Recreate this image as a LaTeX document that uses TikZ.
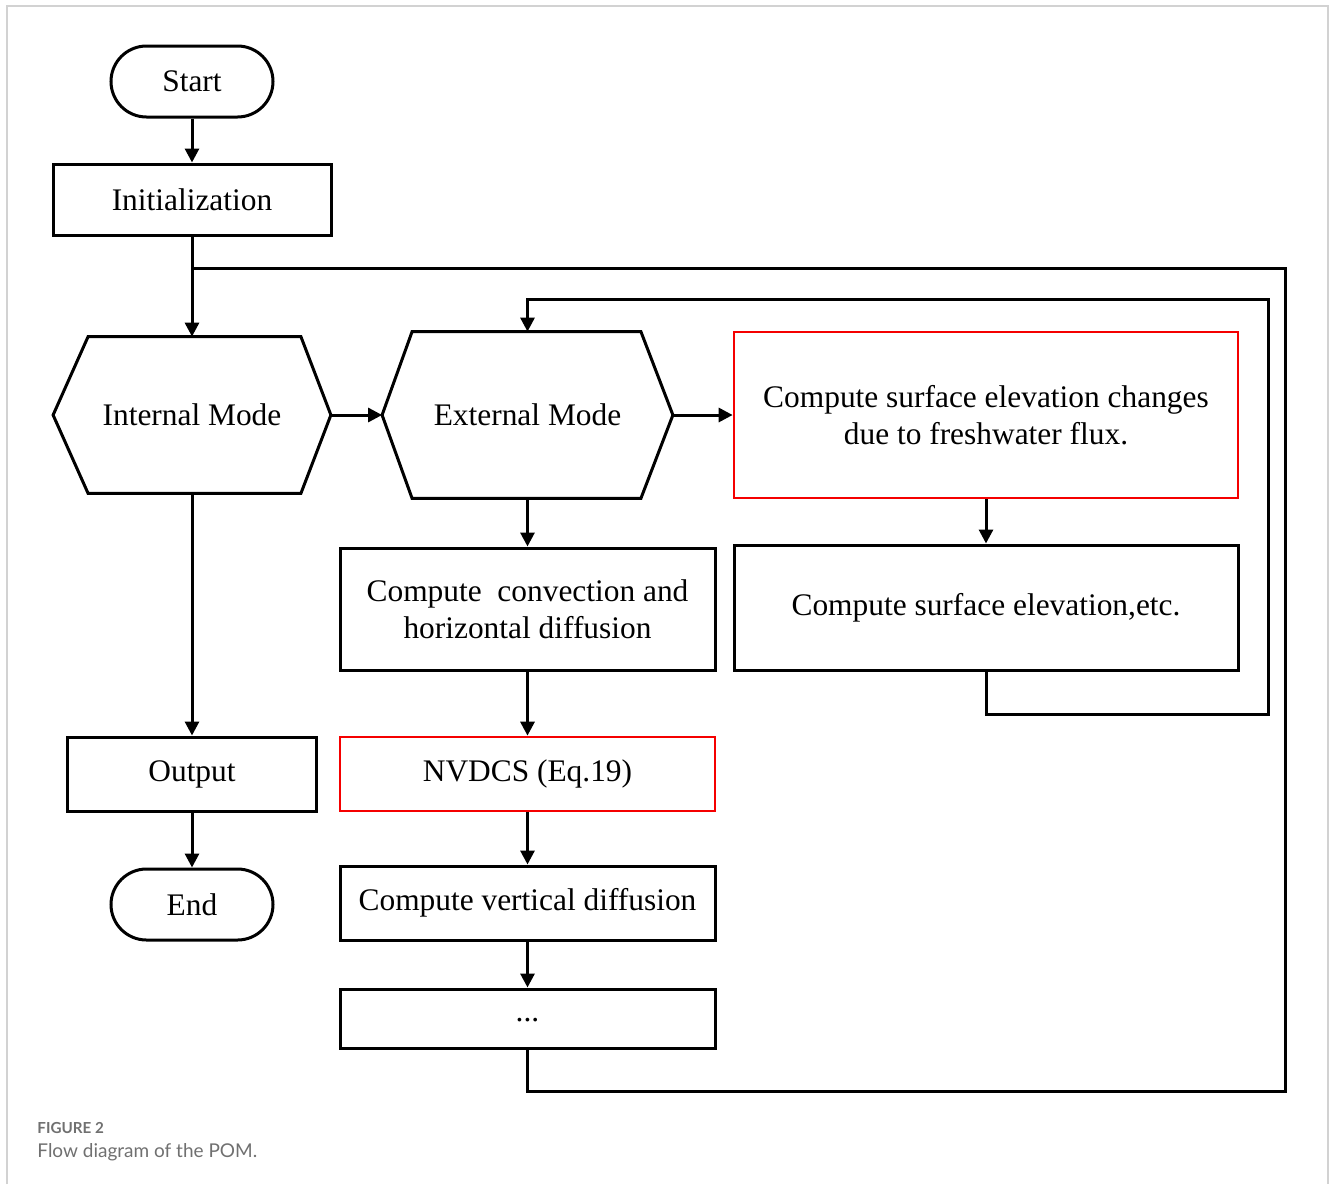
\documentclass[tikz,border=0pt]{standalone}
\usepackage{fontspec}
\setmainfont{Liberation Serif}
\newfontfamily\capfont{Lato}
\usetikzlibrary{arrows.meta,calc}
\definecolor{framegray}{RGB}{210,210,210}
\definecolor{capgray}{RGB}{112,112,112}
\definecolor{boxred}{RGB}{245,0,0}
\begin{document}
\begin{tikzpicture}[x=0.5pt,y=-0.5pt,
  base/.style={draw=black,line width=1.5pt,align=center,inner sep=2pt,
     font=\fontsize{15.7}{18.5}\selectfont},
  term/.style={base,rounded corners=17.75pt,minimum width=81pt,minimum height=35.5pt},
  proc/.style={base},
  redproc/.style={base,draw=boxred,line width=1.35pt},
  hexn/.style={align=center,inner sep=0pt,font=\fontsize{15.7}{18.5}\selectfont},
  hexline/.style={draw=black,line width=1.5pt,line join=miter},
  conn/.style={draw=black,line width=1.5pt},
  arr/.style={conn,-{Triangle[length=7pt,width=7pt]}},
  captext/.style={anchor=west,inner sep=0pt,text=capgray}]
\useasboundingbox (0,0) rectangle (1333,1184);
% outer frame
\draw[framegray,line width=0.8pt] (7,1184) -- (7,6) -- (1328,6) -- (1328,1184);

% nodes
\node[term] (start) at (192,81.5) {Start};
\node[proc,minimum width=139pt,minimum height=35.5pt] (init) at (192,199.5) {Initialization};
\node[hexn,minimum width=138.5pt,minimum height=78pt] (intm) at (192,415) {Internal Mode};
\node[hexn,minimum width=145pt,minimum height=83pt] (extm) at (527.5,415) {External Mode};
\node[redproc,minimum width=252pt,minimum height=83pt] (red1) at (986,415)
   {Compute surface elevation changes\\due to freshwater flux.};
\node[proc,minimum width=252pt,minimum height=62.5pt] (elev) at (986,607.5)
   {Compute surface elevation,etc.};
\node[proc,minimum width=187.5pt,minimum height=61pt] (conv) at (527.5,609)
   {Compute\ \ convection and\\horizontal diffusion};
\node[redproc,minimum width=187.5pt,minimum height=37pt] (nvdcs) at (527.5,774)
   {NVDCS (Eq.19)};
\node[proc,minimum width=187.5pt,minimum height=37pt] (vert) at (527.5,903)
   {Compute vertical diffusion};
\node[proc,minimum width=187.5pt,minimum height=29.5pt] (dots) at (527.5,1018.5)
   {\raisebox{-1.5pt}[0pt][0pt]{...}};
\node[proc,minimum width=124.5pt,minimum height=37pt] (out) at (192,774) {Output};
\node[term] (end) at (192,904.5) {End};

% hexagon outlines
\draw[hexline] (intm.west) -- ($(intm.north west)+(35,0)$) -- ($(intm.north east)+(-30,0)$)
   -- (intm.east) -- ($(intm.south east)+(-30,0)$) -- ($(intm.south west)+(35,0)$) -- cycle;
\draw[hexline] (extm.west) -- ($(extm.north west)+(30,0)$) -- ($(extm.north east)+(-32,0)$)
   -- (extm.east) -- ($(extm.south east)+(-32,0)$) -- ($(extm.south west)+(30,0)$) -- cycle;

% loop coordinates
\coordinate (jn) at (192,268);
\coordinate (outerBR) at (1285,1091);
\coordinate (innerBR) at (1268,714);
\coordinate (innerTL) at (527.5,299);

% connectors
\draw[arr] (start) -- (init);
\draw[arr] (init) -- (intm);
\draw[arr] (intm) -- (extm);
\draw[arr] (extm) -- (red1);
\draw[arr] (red1) -- (elev);
\draw[arr] (extm) -- (conv);
\draw[arr] (conv) -- (nvdcs);
\draw[arr] (nvdcs) -- (vert);
\draw[arr] (vert) -- (dots);
\draw[arr] (intm) -- (out);
\draw[arr] (out) -- (end);
\draw[conn,line join=miter] (dots.south) |- (outerBR) |- (jn);
\draw[arr,line join=miter] (elev.south) |- (innerBR) |- (innerTL) -- (extm.north);

% caption
\node[captext,font=\capfont\bfseries\fontsize{7.6}{9}\selectfont] (capa) at (37,1128) {FIGURE 2};
\node[captext,font=\capfont\fontsize{9.5}{11}\selectfont] (capb) at (37,1152) {Flow diagram of the POM.};
\end{tikzpicture}
\end{document}
